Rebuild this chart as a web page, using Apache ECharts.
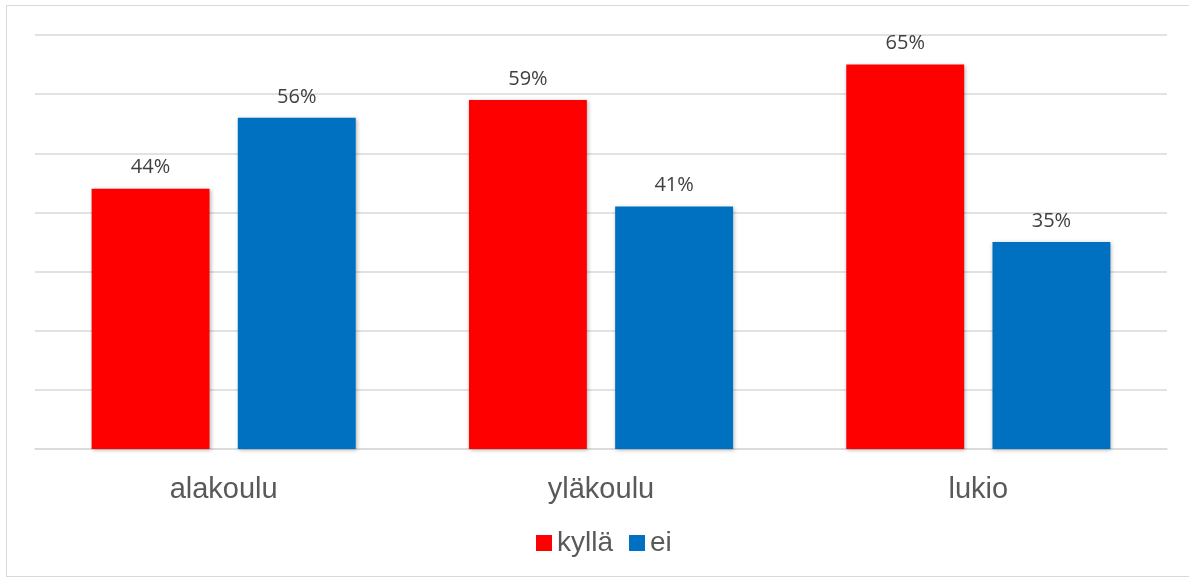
<!DOCTYPE html>
<html>
<head>
<meta charset="utf-8">
<script src="https://cdn.jsdelivr.net/npm/echarts@6/dist/echarts.min.js"></script>
<style>
    * { margin: 0; padding: 0; }
    body { background: #fff; }
    #frame { position: absolute; left: 6px; top: 5px; width: 1185px; height: 572px; border: 1px solid #d9d9d9; box-sizing: border-box; }
    #chart { position: absolute; left: 0; top: 0; width: 1189px; height: 577px; }
</style>
</head>
<body>
<div id="frame"></div>
<div id="chart"></div>
<script>
    // luokka-asteet ja vastaukset (%)
    var categories = ['alakoulu', 'yläkoulu', 'lukio'];
    var kylla = [44, 59, 65];
    var ei = [56, 41, 35];

    var chart = echarts.init(document.getElementById('chart'));
    var label = {
        show: true,
        position: 'top',
        distance: 11,
        formatter: '{c}%',
        color: '#404040',
        fontSize: 20,
        fontFamily: 'Open Sans'
    };
    chart.setOption({
        animation: false,
        color: ['#ff0000', '#0070c0'],
        grid: { left: 35, right: 22, top: 35, bottom: 128 },
        legend: {
            bottom: 15,
            left: 531,
            itemWidth: 16,
            itemHeight: 16,
            itemGap: 16,
            icon: 'rect',
            textStyle: { fontSize: 28, color: '#595959', fontFamily: 'Liberation Sans', padding: [0, 0, 0, 0] },
            data: ['kyllä', 'ei']
        },
        xAxis: {
            type: 'category',
            data: categories,
            axisLine: { lineStyle: { color: '#d9d9d9', width: 1.5 } },
            axisTick: { show: false },
            axisLabel: { fontSize: 29, color: '#595959', fontFamily: 'Liberation Sans', margin: 26 }
        },
        yAxis: {
            type: 'value',
            min: 0,
            max: 70,
            interval: 10,
            axisLabel: { show: false },
            axisLine: { show: false },
            axisTick: { show: false },
            splitLine: { lineStyle: { color: '#d9d9d9', width: 1.5 } }
        },
        series: [
            {
                name: 'kyllä',
                type: 'bar',
                data: kylla,
                barGap: '24%',
                barCategoryGap: '30%',
                label: label,
                itemStyle: { shadowBlur: 4, shadowColor: 'rgba(0,0,0,0.3)', shadowOffsetX: 1, shadowOffsetY: 1 }
            },
            {
                name: 'ei',
                type: 'bar',
                data: ei,
                barGap: '24%',
                barCategoryGap: '30%',
                label: label,
                itemStyle: { shadowBlur: 4, shadowColor: 'rgba(0,0,0,0.3)', shadowOffsetX: 1, shadowOffsetY: 1 }
            }
        ]
    });
</script>
</body>
</html>
